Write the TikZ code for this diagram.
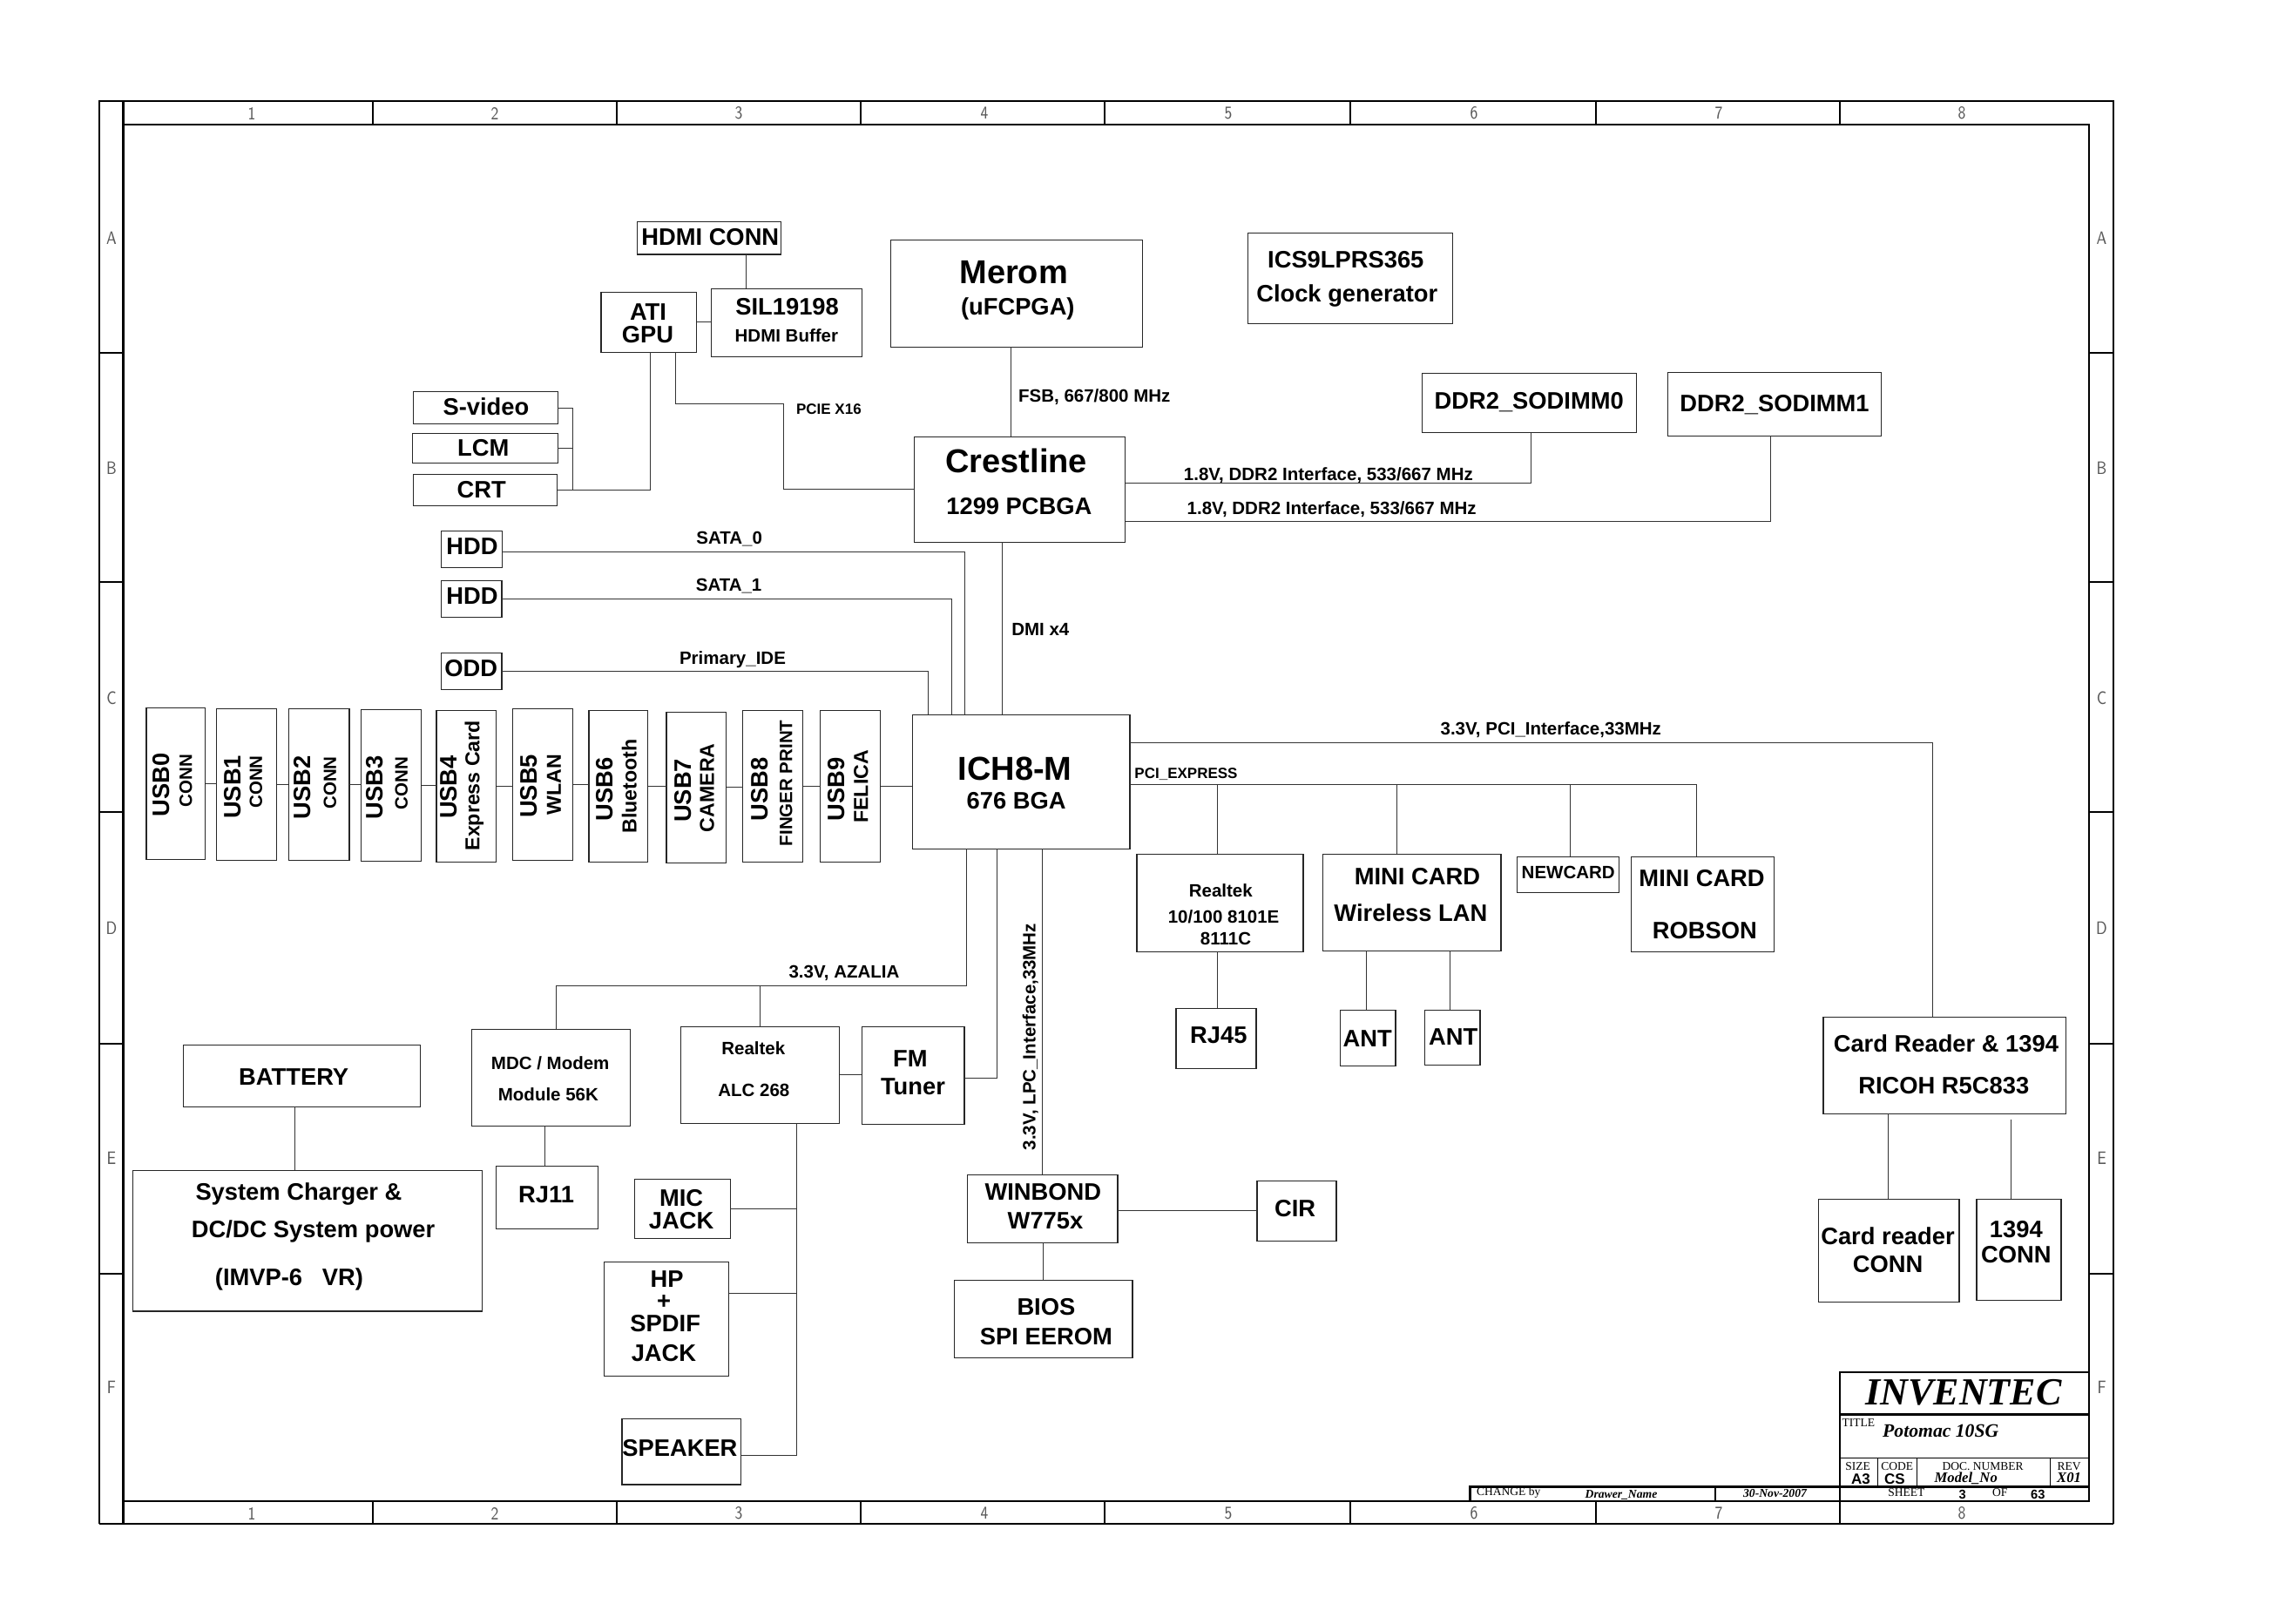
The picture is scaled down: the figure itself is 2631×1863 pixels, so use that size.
\documentclass[tikz,border=0pt]{standalone}
\usepackage{fontspec}
\setmainfont{Liberation Sans}
\newfontfamily\cadserif{Liberation Serif}
\usetikzlibrary{calc}
\tikzset{basic/.style={draw=black!85,line width=.42pt,inner sep=0pt,outer sep=0pt}}
\tikzset{wire/.style={draw=black!80,line width=.3pt}}
\tikzset{lbl/.style={inner sep=0pt,outer sep=0pt,text depth=0pt,font=\bfseries}}
\tikzset{bigtxt/.style={lbl,text height=8.2pt,font=\fontsize{11.4}{12}\bfseries\selectfont}}
\tikzset{midtxt/.style={lbl,text height=5.9pt,font=\fontsize{8.2}{9}\bfseries\selectfont}}
\tikzset{usbtxt/.style={lbl,text height=5pt,font=\fontsize{6.95}{8}\bfseries\selectfont}}
\tikzset{subtxt/.style={lbl,text height=4.4pt,font=\fontsize{6.15}{7}\bfseries\selectfont}}
\tikzset{tinytxt/.style={lbl,text height=3.7pt,font=\fontsize{5.1}{6}\bfseries\selectfont}}
\tikzset{ruler/.style={inner sep=0pt,xscale=.8,text=black!65,font=\fontsize{6.2}{7}\sffamily\selectfont}}
\tikzset{romtxt/.style={inner sep=0pt,text height=2.7pt,text depth=0pt,font=\fontsize{4.05}{5}\cadserif\selectfont}}
\tikzset{itatxt/.style={inner sep=0pt,text height=2.8pt,text depth=0pt,font=\fontsize{4.1}{5}\cadserif\bfseries\itshape\selectfont}}
\tikzset{sanstxt/.style={inner sep=0pt,text height=3.7pt,text depth=0pt,font=\fontsize{5.1}{6}\bfseries\selectfont}}
\tikzset{frame/.style={line width=.75pt}}
\newcommand{\chipbox}[5]{\node[basic,minimum width={(#4-#2)*0.3pt},minimum height={(#5-#3)*0.3pt}]
                         (#1) at ({(#2+#4)/2},{(#3+#5)/2}) {};}

\begin{document}
\begin{tikzpicture}[x=0.3pt,y=-0.3pt]
    \useasboundingbox (0,0) rectangle (2631,1863);

    % sheet border
    \draw[line width=.6pt] (114,1749) -- (114,116) -- (2426,116) -- (2426,1749);
    \draw[line width=.35pt] (114,1749) -- (2426,1749);
    \draw[frame] (141.5,143) rectangle (2398,1723);
    \foreach \x in {141.5,428,708,988,1268,1550,1832,2112}{
        \draw[frame] (\x,116) -- (\x,143);
        \draw[frame] (\x,1723) -- (\x,1749);
    }
    \foreach \y in {405,668,932,1198,1462}{
        \draw[frame] (114,\y) -- (141.5,\y);
        \draw[frame] (2398,\y) -- (2426,\y);
    }
    \foreach \h/\x [count=\hi] in {1/289,2/568,3/848,4/1130,5/1410,6/1692,7/1973,8/2252}{
        \node[ruler] (coltop\hi) at (\x,130) {\h};
        \node[ruler] (colbot\hi) at (\x,1737) {\h};
    }
    \foreach \h/\y [count=\hi] in {A/273.5,B/537.5,C/801,D/1065,E/1329,F/1592}{
        \node[ruler] (rowl\hi) at (128,\y) {\h};
        \node[ruler] (rowr\hi) at (2412.5,\y) {\h};
    }

    % graphics and display
    \chipbox{hdmi}{731.4}{254.3}{896.6}{291.9}
    \chipbox{sil}{816.2}{331.4}{989.7}{409.5}
    \chipbox{gpu}{690}{335.5}{799.6}{404.4}
    \chipbox{svideo}{474.4}{449.4}{640.2}{486.6}
    \chipbox{lcm}{473.7}{497.6}{640.2}{531.6}
    \chipbox{crt}{474.4}{544.4}{639.5}{580.7}
    \node[midtxt] (hdmi-t) at (815.3,271.3) {HDMI CONN};
    \node[midtxt] (sil-a) at (903.6,351.6) {SIL19198};
    \node[subtxt] (sil-b) at (902.9,385.6) {HDMI Buffer};
    \node[midtxt] (gpu-a) at (744,357.6) {ATI};
    \node[midtxt] (gpu-b) at (743.5,383.7) {GPU};
    \node[midtxt] (svideo-t) at (557.9,466.4) {S-video};
    \node[midtxt] (lcm-t) at (554.7,513.2) {LCM};
    \node[midtxt] (crt-t) at (552.8,561.4) {CRT};

    % cpu, clock and north bridge
    \chipbox{merom}{1022.2}{275.5}{1311.4}{398.4}
    \chipbox{clock}{1432.3}{267.6}{1667.2}{371.2}
    \chipbox{ddr0}{1632.7}{428.5}{1878.4}{496.5}
    \chipbox{ddr1}{1914.3}{427.3}{2159.4}{500.3}
    \chipbox{crest}{1049.7}{501.3}{1291.5}{622.2}
    \node[bigtxt] (merom-a) at (1163.7,312.2) {Merom};
    \node[midtxt] (merom-b) at (1168.3,351.5) {(uFCPGA)};
    \node[midtxt] (clock-a) at (1544.8,297.2) {ICS9LPRS365};
    \node[midtxt] (clock-b) at (1546.3,336.5) {Clock generator};
    \node[midtxt] (ddr0-t) at (1755.2,460) {DDR2\_SODIMM0};
    \node[midtxt] (ddr1-t) at (2037,462.3) {DDR2\_SODIMM1};
    \node[bigtxt] (crest-a) at (1166.8,529) {Crestline};
    \node[midtxt] (crest-b) at (1169.9,581.1) {1299 PCBGA};

    % drives
    \chipbox{hdd0}{506.3}{609.2}{576.4}{651.4}
    \chipbox{hdd1}{506.3}{666.6}{575.8}{708.4}
    \chipbox{odd}{506.3}{749.2}{575.8}{791.5}
    \node[midtxt] (hdd0-t) at (542,627) {HDD};
    \node[midtxt] (hdd1-t) at (542,684) {HDD};
    \node[midtxt] (odd-t) at (540.7,767.1) {ODD};

    % south bridge
    \chipbox{ich}{1047.3}{820.3}{1296.9}{974.3}
    \node[bigtxt] (ich-a) at (1165,882.3) {ICH8-M};
    \node[midtxt] (ich-b) at (1166.7,918.7) {676 BGA};

    % usb row
    \foreach \xa/\xb/\ya/\yb/\mx/\my/\nx/\ny/\subf/\subt [count=\ui from 0] in {
        167.8/235.5/812.3/986.3/184.4/901/213.1/896.3/subtxt/CONN,
        248.7/317.6/813.3/987.3/266.5/903.3/293.5/897.5/subtxt/CONN,
        331.4/400.9/813.3/987.3/346.3/903.7/378.5/898.5/subtxt/CONN,
        414.6/483.5/814.3/988.3/429.6/903.7/460.6/899/subtxt/CONN,
        500.8/569.6/815.3/989.3/514.5/903.5/542.1/901.7/usbtxt/Express Card,
        588.6/657.5/813.3/987.3/607/902.3/635.6/900.5/usbtxt/WLAN,
        675.8/743.6/815.3/989.3/693.6/906/722.3/902.5/usbtxt/Bluetooth,
        764.8/833.7/817.3/990.3/783.2/907.3/811.3/904.2/usbtxt/CAMERA,
        852.6/921.5/815.3/989.3/871.6/906.2/902/898.8/subtxt/FINGER PRINT,
        941.6/1010.5/815.3/989.3/960/906.2/988.1/902.8/usbtxt/FELICA}{%
        \chipbox{usb\ui}{\xa}{\ya}{\xb}{\yb}
        \node[midtxt,rotate=90] (usb\ui-a) at (\mx,\my) {USB\ui};
        \node[\subf,rotate=90] (usb\ui-b) at (\nx,\ny) {\subt};
    }
    \foreach \ui [remember=\ui as \uprev (initially 0)] in {1,...,9}{
        \draw[wire] (usb\uprev.east) -- (usb\uprev.east -| usb\ui.west);
    }
    \draw[wire] (usb9.east) -- (usb9.east -| ich.west);

    % pci express cards
    \chipbox{rtk}{1305.1}{980.3}{1495.9}{1092.3}
    \chipbox{wlan}{1518.2}{980.3}{1723.1}{1091.3}
    \chipbox{newcard}{1741.3}{983.3}{1858.2}{1024.3}
    \chipbox{robson}{1872.3}{983.3}{2036.5}{1092.3}
    \chipbox{rj45}{1349.9}{1157.3}{1442}{1226.3}
    \chipbox{ant0}{1538.2}{1159.3}{1602}{1223.3}
    \chipbox{ant1}{1635.2}{1159.3}{1699}{1222.3}
    \node[subtxt] (rtk-a) at (1401.3,1022) {Realtek};
    \node[subtxt] (rtk-b) at (1404.6,1051.7) {10/100 8101E};
    \node[subtxt] (rtk-c) at (1407,1076.7) {8111C};
    \node[midtxt] (wlan-a) at (1626.9,1006) {MINI CARD};
    \node[midtxt] (wlan-b) at (1619.4,1047.3) {Wireless LAN};
    \node[subtxt] (newcard-t) at (1800.2,1000.7) {NEWCARD};
    \node[midtxt] (robson-a) at (1953.6,1007.7) {MINI CARD};
    \node[midtxt] (robson-b) at (1956.9,1068) {ROBSON};
    \node[midtxt] (rj45-t) at (1398.8,1187.3) {RJ45};
    \node[midtxt] (ant0-t) at (1569.7,1191.3) {ANT};
    \node[midtxt] (ant1-t) at (1668.3,1190) {ANT};

    % card reader
    \chipbox{card}{2092.9}{1167.3}{2371.4}{1278.3}
    \chipbox{crconn}{2087.5}{1376.3}{2249.1}{1494.3}
    \chipbox{fwconn}{2268.8}{1376.3}{2366}{1492.3}
    \node[midtxt] (card-a) at (2233.9,1197.3) {Card Reader \& 1394};
    \node[midtxt] (card-b) at (2231.3,1245.3) {RICOH R5C833};
    \node[midtxt] (crconn-a) at (2167,1419) {Card reader};
    \node[midtxt] (crconn-b) at (2167,1451) {CONN};
    \node[midtxt] (fwconn-a) at (2314.3,1410.7) {1394};
    \node[midtxt] (fwconn-b) at (2314.3,1440) {CONN};

    % lpc devices
    \chipbox{winbond}{1110.7}{1348.3}{1283}{1426.3}
    \chipbox{bios}{1095.5}{1469.3}{1300}{1558.3}
    \chipbox{cir}{1442.9}{1355.3}{1533.9}{1424.3}
    \node[midtxt] (winbond-a) at (1197.3,1368) {WINBOND};
    \node[midtxt] (winbond-b) at (1200,1401) {W775x};
    \node[midtxt] (bios-a) at (1200.9,1500) {BIOS};
    \node[midtxt] (bios-b) at (1200.9,1534) {SPI EEROM};
    \node[midtxt] (cir-t) at (1486.6,1387) {CIR};

    % audio and modem
    \chipbox{mdc}{541.6}{1181.3}{723.6}{1292.4}
    \chipbox{alc}{781.5}{1178.5}{963.5}{1289.2}
    \chipbox{fm}{989.3}{1178.5}{1107}{1290.3}
    \chipbox{rj11}{569.7}{1338.3}{686.3}{1410.2}
    \chipbox{mic}{728.7}{1353.3}{838.4}{1421.3}
    \chipbox{hp}{693.7}{1448.6}{836.7}{1579.5}
    \chipbox{speaker}{713.8}{1628.5}{850.4}{1704}
    \node[subtxt] (mdc-a) at (631.7,1220) {MDC / Modem};
    \node[subtxt] (mdc-b) at (629.4,1256) {Module 56K};
    \node[subtxt] (alc-a) at (864.8,1203) {Realtek};
    \node[subtxt] (alc-b) at (865.4,1250.9) {ALC 268};
    \node[midtxt] (fm-a) at (1044.8,1214.3) {FM};
    \node[midtxt] (fm-b) at (1048,1246.7) {Tuner};
    \node[midtxt] (rj11-t) at (627.1,1371) {RJ11};
    \node[midtxt] (mic-a) at (782.1,1374.2) {MIC};
    \node[midtxt] (mic-b) at (782.1,1401.1) {JACK};
    \node[midtxt] (hp-a) at (765.5,1467.2) {HP};
    \node[midtxt] (hp-b) at (762,1492.9) {+};
    \node[midtxt] (hp-c) at (763.7,1518.2) {SPDIF};
    \node[midtxt] (hp-d) at (762,1552.6) {JACK};
    \node[midtxt] (speaker-t) at (780.4,1661.7) {SPEAKER};

    % power
    \chipbox{battery}{210.4}{1199.5}{482.5}{1270.3}
    \chipbox{charger}{152.4}{1343.4}{553.7}{1505.1}
    \node[midtxt] (battery-t) at (337.2,1235.9) {BATTERY};
    \node[midtxt] (charger-a) at (343,1367.9) {System Charger \&};
    \node[midtxt] (charger-b) at (359.6,1411) {DC/DC System power};
    \node[midtxt] (charger-c) at (332,1466) {(IMVP-6\ \ \ VR)};

    % bus labels
    \node[tinytxt] (pcie-l) at (951.4,469.6) {PCIE X16};
    \node[subtxt] (fsb-l) at (1256.3,454.2) {FSB, 667/800 MHz};
    \node[subtxt] (dmi-l) at (1194.3,722.3) {DMI x4};
    \node[subtxt] (ddr0-l) at (1524.9,544.4) {1.8V, DDR2 Interface, 533/667 MHz};
    \node[subtxt] (ddr1-l) at (1528.7,582.7) {1.8V, DDR2 Interface, 533/667 MHz};
    \node[subtxt] (sata0-l) at (837.2,617) {SATA\_0};
    \node[subtxt] (sata1-l) at (836.6,671) {SATA\_1};
    \node[subtxt] (ide-l) at (841,755) {Primary\_IDE};
    \node[subtxt] (pci-l) at (1780.3,836.3) {3.3V, PCI\_Interface,33MHz};
    \node[tinytxt] (pe-l) at (1361.5,887.3) {PCI\_EXPRESS};
    \node[subtxt] (azalia-l) at (969,1115) {3.3V, AZALIA};
    \node[subtxt,rotate=90] (lpc-l) at (1181.3,1190) {3.3V, LPC\_Interface,33MHz};

    % free ends of the connectors
    \coordinate (hdmidn) at (856.4,291.9);
    \coordinate (gpudn) at (746,404.4);
    \coordinate (vbus) at (657.4,562.5);
    \coordinate (pcieup) at (775.4,404.4);
    \coordinate (pciebend) at (899.7,463.6);
    \coordinate (fsb) at (1160,398.4);
    \coordinate (dmi) at (1150,622.2);
    \coordinate (ddr0dn) at (1757.5,554.2);
    \coordinate (ddr1dn) at (2032.9,598.5);
    \coordinate (sata0) at (1107,633);
    \coordinate (sata1) at (1092,687.7);
    \coordinate (ide) at (1065,770.3);
    \coordinate (pcicor) at (2218,852.3);
    \coordinate (pebus) at (1947,900.3);
    \coordinate (rtkdrop) at (1397.2,900.3);
    \coordinate (wlandrop) at (1603.7,900.3);
    \coordinate (newdrop) at (1802.7,900.3);
    \coordinate (ant0up) at (1568,1091.3);
    \coordinate (ant1up) at (1664.2,1091.3);
    \coordinate (crdn) at (2167,1278.3);
    \coordinate (fwdn) at (2308,1285);
    \coordinate (lpc) at (1196,974.3);
    \coordinate (spi) at (1197.3,1426.3);
    \coordinate (fmbend) at (1144.3,1237.3);
    \coordinate (azbus) at (1109.5,1131.5);
    \coordinate (mdcup) at (638.6,1131.5);
    \coordinate (aubus) at (914.7,1670.4);
    \coordinate (hpstub) at (914.7,1484.6);
    \coordinate (batdn) at (338.4,1270.3);
    \coordinate (mdcdn) at (625.4,1292.4);

    % connectors
    \draw[wire] (hdmidn) -- (hdmidn |- sil.north);
    \draw[wire] (gpu.east) -- (gpu.east -| sil.west);
    \draw[wire] (gpudn) |- (crt.east);
    \draw[wire] (svideo.east) -| (vbus);
    \draw[wire] (lcm.east) -- (lcm.east -| vbus);
    \draw[wire] (pcieup) |- (pciebend) |- (crest.west);
    \draw[wire] (fsb) -- (fsb |- crest.north);
    \draw[wire] (dmi) -- (dmi |- ich.north);
    \draw[wire] (ddr0dn |- ddr0.south) -- (ddr0dn) -- (ddr0dn -| crest.east);
    \draw[wire] (ddr1dn |- ddr1.south) -- (ddr1dn) -- (ddr1dn -| crest.east);
    \draw[wire] (hdd0.east |- sata0) -- (sata0) -- (sata0 |- ich.north);
    \draw[wire] (hdd1.east |- sata1) -- (sata1) -- (sata1 |- ich.north);
    \draw[wire] (odd.east |- ide) -- (ide) -- (ide |- ich.north);
    \draw[wire] (pcicor -| ich.east) -- (pcicor) -- (pcicor |- card.north);
    \draw[wire] (pebus -| ich.east) -- (pebus) -- (pebus |- robson.north);
    \draw[wire] (rtkdrop) -- (rtkdrop |- rtk.north);
    \draw[wire] (wlandrop) -- (wlandrop |- wlan.north);
    \draw[wire] (newdrop) -- (newdrop |- newcard.north);
    \draw[wire] (rtkdrop |- rtk.south) -- (rtkdrop |- rj45.north);
    \draw[wire] (ant0up) -- (ant0up |- ant0.north);
    \draw[wire] (ant1up) -- (ant1up |- ant1.north);
    \draw[wire] (crdn) -- (crdn |- crconn.north);
    \draw[wire] (fwdn) -- (fwdn |- fwconn.north);
    \draw[wire] (lpc) -- (lpc |- winbond.north);
    \draw[wire] (spi) -- (spi |- bios.north);
    \draw[wire] (winbond.east |- cir.west) -- (cir.west);
    \draw[wire] (fmbend |- ich.south) -- (fmbend) -- (fmbend -| fm.east);
    \draw[wire] (azbus |- ich.south) -- (azbus) -- (mdcup) -- (mdcup |- mdc.north);
    \draw[wire] (alc.north |- azbus) -- (alc.north);
    \draw[wire] (alc.east) -- (alc.east -| fm.west);
    \draw[wire] (aubus |- alc.south) -- (aubus) -- (aubus -| speaker.east);
    \draw[wire] (mic.east) -- (mic.east -| aubus);
    \draw[wire] (hpstub -| hp.east) -- (hpstub);
    \draw[wire] (batdn) -- (batdn |- charger.north);
    \draw[wire] (mdcdn) -- (mdcdn |- rj11.north);

    % title block
    \draw[frame] (2112,1723) -- (2112,1575) -- (2398,1575);
    \draw[frame] (2112,1623.3) -- (2398,1623.3);
    \draw[line width=.45pt] (2112,1673.3) -- (2398,1673.3);
    \draw[frame] (1687.7,1723) -- (1687.7,1706.7) -- (2398,1706.7);
    \draw[line width=.45pt] (1969,1706.7) -- (1969,1723);
    \foreach \x in {2155.7,2200.7,2353.3}{
        \draw[line width=.45pt] (\x,1673.3) -- (\x,1706.7);
    }
    \node[inner sep=0pt,text height=8.7pt,text depth=0pt,font=\fontsize{13.2}{14}\cadserif\bfseries\itshape\selectfont]
         (inventec) at (2254,1597.5) {INVENTEC};
    \node[romtxt] (title-l) at (2133.3,1632.7) {TITLE};
    \node[inner sep=0pt,text height=4.3pt,text depth=0pt,font=\fontsize{6.5}{7}\cadserif\bfseries\itshape\selectfont]
         (title-t) at (2227.7,1642.7) {Potomac 10SG};
    \foreach \h/\x [count=\hi] in {SIZE/2132.7,CODE/2177.7,DOC. NUMBER/2276,REV/2375}{
        \node[romtxt] (head\hi) at (\x,1682.7) {\h};
    }
    \node[sanstxt] (size-t) at (2136,1697.3) {A3};
    \node[sanstxt] (code-t) at (2175,1697.3) {CS};
    \node[itatxt,font=\fontsize{5}{6}\cadserif\bfseries\itshape\selectfont] (doc-t) at (2256.7,1697.3) {Model\_No};
    \node[itatxt,font=\fontsize{5}{6}\cadserif\bfseries\itshape\selectfont] (rev-t) at (2375,1697.3) {X01};
    \node[romtxt] (sheet-l) at (2188.3,1712.7) {SHEET};
    \node[sanstxt,font=\fontsize{4.4}{5}\bfseries\selectfont] (sheet-t) at (2252.7,1714.3) {3};
    \node[romtxt] (of-l) at (2295.7,1712.7) {OF};
    \node[sanstxt,font=\fontsize{4.4}{5}\bfseries\selectfont] (of-t) at (2339.3,1714.3) {63};
    \node[romtxt] (change-l) at (1731.7,1712.3) {CHANGE by};
    \node[itatxt] (drawer-t) at (1861,1715) {Drawer\_Name};
    \node[itatxt] (date-t) at (2037.5,1714.3) {30-Nov-2007};
\end{tikzpicture}
\end{document}
